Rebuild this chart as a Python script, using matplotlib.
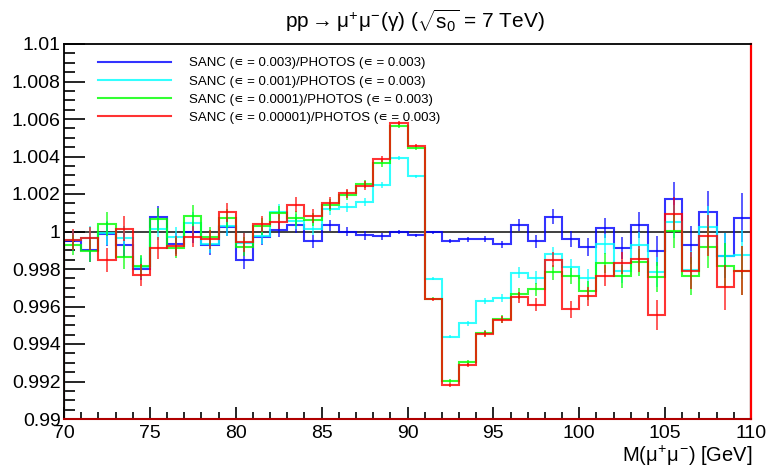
import numpy as np
import matplotlib
matplotlib.use("Agg")
import matplotlib.pyplot as plt
from matplotlib.ticker import FixedLocator, MultipleLocator

plt.rcParams["font.family"] = ["Liberation Sans", "DejaVu Sans"]
plt.rcParams["mathtext.fontset"] = "custom"
plt.rcParams["mathtext.rm"] = "Liberation Sans"
plt.rcParams["mathtext.it"] = "Liberation Sans"
plt.rcParams["mathtext.bf"] = "Liberation Sans:bold"

# =====================================================
# DATA  (ratio per 1 GeV bin, 70..110 GeV)
# =====================================================

bin_edges = list(range(70, 111))

ratio_blue = [0.99950, 0.99900, 0.99988, 0.99928, 0.99799, 1.00077, 0.99935, 0.99995, 0.99927, 1.00025,
              0.99850, 0.99972, 1.00010, 1.00034, 0.99948, 1.00032, 1.00000, 0.99979, 0.99975, 0.99996,
              0.99979, 0.99997, 0.99948, 0.99958, 0.99961, 0.99932, 1.00035, 0.99947, 1.00080, 0.99960,
              0.99918, 1.00018, 0.99911, 1.00035, 0.99897, 1.00172, 0.99929, 1.00105, 0.99871, 1.00074]

ratio_cyan = [0.99955, 0.99968, 0.99992, 0.99966, 0.99812, 1.00015, 0.99971, 1.00048, 0.99935, 1.00028,
              0.99940, 0.99978, 1.00105, 1.00055, 1.00015, 1.00120, 1.00129, 1.00156, 1.00248, 1.00392,
              1.00295, 0.99747, 0.99440, 0.99510, 0.99628, 0.99645, 0.99780, 0.99754, 0.99880, 0.99810,
              0.99752, 0.99933, 0.99787, 0.99929, 0.99785, 1.00053, 0.99796, 1.00025, 0.99871, 0.99876]

ratio_green = [0.99929, 0.99897, 1.00039, 0.99865, 0.99817, 1.00065, 0.99913, 1.00085, 0.99972, 1.00071,
               0.99920, 1.00028, 1.00098, 1.00070, 1.00063, 1.00142, 1.00195, 1.00254, 1.00363, 1.00564,
               1.00444, 0.99642, 0.99204, 0.99302, 0.99460, 0.99534, 0.99668, 0.99692, 0.99784, 0.99763,
               0.99684, 0.99832, 0.99761, 0.99835, 0.99755, 1.00004, 0.99764, 0.99915, 0.99817, 0.99791]

ratio_red = [0.99956, 0.99964, 0.99849, 1.00015, 0.99768, 0.99912, 0.99922, 0.99973, 0.99959, 1.00103,
             0.99942, 1.00040, 1.00051, 1.00143, 1.00083, 1.00152, 1.00204, 1.00245, 1.00387, 1.00577,
             1.00457, 0.99640, 0.99182, 0.99288, 0.99453, 0.99530, 0.99650, 0.99610, 0.99850, 0.99585,
             0.99654, 0.99764, 0.99832, 0.99853, 0.99555, 1.00096, 0.99791, 0.99977, 0.99702, 0.99791]

# statistical errors (same size for all curves)
errors = [0.00055, 0.00060, 0.00065, 0.00065, 0.00060, 0.00060, 0.00055, 0.00055, 0.00050, 0.00050,
          0.00050, 0.00045, 0.00040, 0.00040, 0.00035, 0.00030, 0.00025, 0.00022, 0.00018, 0.00010,
          0.00008, 0.00008, 0.00010, 0.00012, 0.00015, 0.00020, 0.00030, 0.00035, 0.00040, 0.00045,
          0.00050, 0.00055, 0.00060, 0.00070, 0.00080, 0.00090, 0.00100, 0.00110, 0.00120, 0.00130]

labels = [
    "SANC (\u220a = 0.003)/PHOTOS (\u220a = 0.003)",
    "SANC (\u220a = 0.001)/PHOTOS (\u220a = 0.003)",
    "SANC (\u220a = 0.0001)/PHOTOS (\u220a = 0.003)",
    "SANC (\u220a = 0.00001)/PHOTOS (\u220a = 0.003)",
]
colors = ["#0000ff", "#00ffff", "#00ff00", "#ff0000"]

y_ticks = [1.01, 1.008, 1.006, 1.004, 1.002, 1.0, 0.998, 0.996, 0.994, 0.992, 0.99]
y_tick_labels = ["1.01", "1.008", "1.006", "1.004", "1.002", "1", "0.998", "0.996", "0.994", "0.992", "0.99"]
x_ticks = [70, 75, 80, 85, 90, 95, 100, 105, 110]

# =====================================================
# PLOT
# =====================================================

edges = np.array(bin_edges, dtype=float)
centers = 0.5 * (edges[:-1] + edges[1:])
err = np.array(errors)

fig = plt.figure(figsize=(7.84, 4.67), dpi=100)
ax = fig.add_axes([64 / 784, 48 / 467, 687 / 784, 375 / 467])

ax.axhline(1.0, color="black", lw=1.4, alpha=0.75, zorder=1)

series = [ratio_blue, ratio_cyan, ratio_green, ratio_red]
for vals, col, lab in zip(series, colors, labels):
    v = np.array(vals)
    ax.stairs(v, edges, color=col, lw=1.5, alpha=0.8, label=lab, zorder=2)
    ax.vlines(centers, v - err, v + err, color=col, lw=1.3, alpha=0.7, zorder=2)

ax.set_xlim(70, 110)
ax.set_ylim(0.99, 1.01)

ax.yaxis.set_major_locator(FixedLocator(y_ticks))
ax.set_yticklabels(y_tick_labels)
ax.yaxis.set_minor_locator(MultipleLocator(0.0005))
ax.xaxis.set_major_locator(FixedLocator(x_ticks))
ax.xaxis.set_minor_locator(MultipleLocator(1))

ax.tick_params(axis="both", which="both", direction="in", labelsize=14, width=1.2)
ax.tick_params(axis="y", which="major", length=15, pad=2.5)
ax.tick_params(axis="y", which="minor", length=7.7)
ax.tick_params(axis="x", which="major", length=9, pad=4)
ax.tick_params(axis="x", which="minor", length=5)
ax.tick_params(top=False, right=False)

for s in ["left", "top"]:
    ax.spines[s].set_linewidth(1.3)
ax.spines["right"].set_color("#ff0000")
ax.spines["right"].set_linewidth(1.6)
ax.spines["bottom"].set_color("#b00000")
ax.spines["bottom"].set_linewidth(1.5)

leg = ax.legend(loc="upper left", bbox_to_anchor=(0.0495, 0.965), frameon=False,
                fontsize=9.5, handlelength=5.5, handletextpad=1.4, labelspacing=0.45,
                borderpad=0, borderaxespad=0)

fig.text(415 / 784, 1 - 21 / 467, r"pp$\rightarrow\mu^{+}\mu^{-}(\gamma)$ ($\sqrt{s_0}$ = 7 TeV)",
         ha="center", va="center", fontsize=15)
fig.text(752 / 784, 1 - 456 / 467, r"M($\mu^{+}\mu^{-}$) [GeV]", ha="right", va="center", fontsize=14.5)

fig.savefig("out.png", dpi=100)
plt.close(fig)
